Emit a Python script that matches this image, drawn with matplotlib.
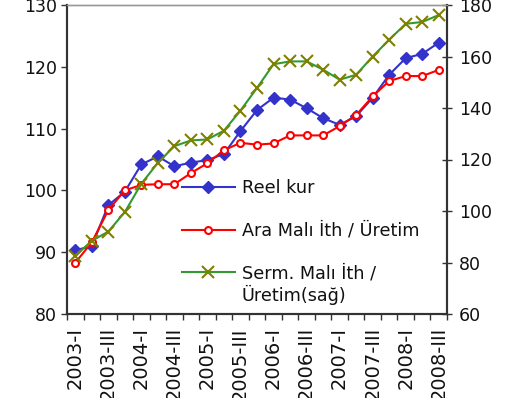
import matplotlib
matplotlib.use("Agg")
import matplotlib.pyplot as plt
import matplotlib.transforms as mtransforms
import numpy as np

plt.rcParams['font.family'] = ['DejaVu Sans']

quarters = ["2003-I", "2003-II", "2003-III", "2003-IV",
            "2004-I", "2004-II", "2004-III", "2004-IV",
            "2005-I", "2005-II", "2005-III", "2005-IV",
            "2006-I", "2006-II", "2006-III", "2006-IV",
            "2007-I", "2007-II", "2007-III", "2007-IV",
            "2008-I", "2008-II", "2008-III"]

reel_kur = [90.3, 91.0, 97.6, 99.8, 104.2, 105.5, 103.9, 104.5, 104.9, 105.9,
            109.6, 113.0, 115.0, 114.7, 113.3, 111.7, 110.6, 112.0, 115.0,
            118.7, 121.4, 122.1, 123.9]
ara_mali = [88.3, 91.6, 96.8, 100.0, 100.9, 101.0, 101.0, 102.8, 104.4, 106.5,
            107.7, 107.4, 107.6, 108.9, 108.9, 108.9, 110.4, 112.2, 115.2,
            117.7, 118.5, 118.5, 119.5]
serm_mali = [82.6, 88.4, 92.0, 99.6, 110.6, 118.7, 125.2, 127.4, 127.8, 131.2,
             139.0, 147.8, 157.0, 158.1, 158.1, 154.9, 151.0, 152.9, 160.0,
             166.5, 172.7, 173.4, 176.1]

labels = ["Reel kur", "Ara Malı İth / Üretim", "Serm. Malı İth /"]
label3_line2 = "Üretim(sağ)"

W, H = 505, 398
fig = plt.figure(figsize=(W / 100, H / 100), dpi=100)
ax = fig.add_axes([67 / W, (H - 314) / H, 380 / W, 309 / H])
ax2 = ax.twinx()

x = np.arange(len(quarters))
l1, = ax.plot(x, reel_kur, color="#3333CC", lw=1.5, marker="D", ms=6,
              mfc="#3333CC", mec="#3333CC", label=labels[0], zorder=3)
l2, = ax.plot(x, ara_mali, color="#FF0000", lw=1.5, marker="o", ms=5,
              mfc="white", mec="#FF0000", mew=1.5, label=labels[1], zorder=4)
l3, = ax2.plot(x, serm_mali, color="#339933", lw=1.5, marker="x", ms=8.5,
               mec="#808000", mew=1.5, label=labels[2])

ax.set_xlim(-0.5, len(quarters) - 0.5)
ax.set_ylim(80, 130)
ax2.set_ylim(60, 180)
ax.set_yticks(np.arange(80, 131, 10))
ax2.set_yticks(np.arange(60, 181, 20))

ax.set_xticks(x[::2])
ax.set_xticklabels(quarters[::2], rotation=90, fontsize=14, color="#111111")
shift = mtransforms.ScaledTranslation(-3 / 100, 0, fig.dpi_scale_trans)
for lab in ax.get_xticklabels():
    lab.set_transform(lab.get_transform() + shift)
ax.set_xticks(np.arange(-0.5, len(quarters), 1), minor=True)
ax.tick_params(axis="x", which="major", length=0, pad=9.5)
ax.tick_params(axis="x", which="minor", length=4.3, width=1, direction="out",
               color="#333333")
ax.tick_params(axis="y", length=4.3, width=1, direction="out", labelsize=12.5,
               color="#333333", labelcolor="#111111", pad=3)
ax2.tick_params(axis="y", length=7, width=1, direction="inout", labelsize=12.5,
                color="#333333", labelcolor="#111111", pad=5)

for a in (ax, ax2):
    a.spines["top"].set_color("#999999")
    a.spines["top"].set_linewidth(1.0)
    for s in ("left", "right", "bottom"):
        a.spines[s].set_color("#333333")
        a.spines[s].set_linewidth(1.5)

leg = ax2.legend(handles=[l1, l2, l3], labels=labels, frameon=False,
                 loc="upper left", bbox_to_anchor=((182 - 67) / 380, (314 - 179) / 309),
                 fontsize=12.7, handlelength=3.0, handletextpad=0.4,
                 labelspacing=1.4, borderpad=0, borderaxespad=0, numpoints=1)
leg.set_zorder(5)
for t in leg.get_texts():
    t.set_color("#111111")

ax2.annotate(label3_line2, xy=(0, 0), xycoords=leg.get_texts()[2],
             xytext=(0, -2), textcoords="offset points", ha="left", va="top",
             fontsize=12.7, color="#111111", zorder=10, annotation_clip=False)

fig.savefig("out.png", dpi=100)
